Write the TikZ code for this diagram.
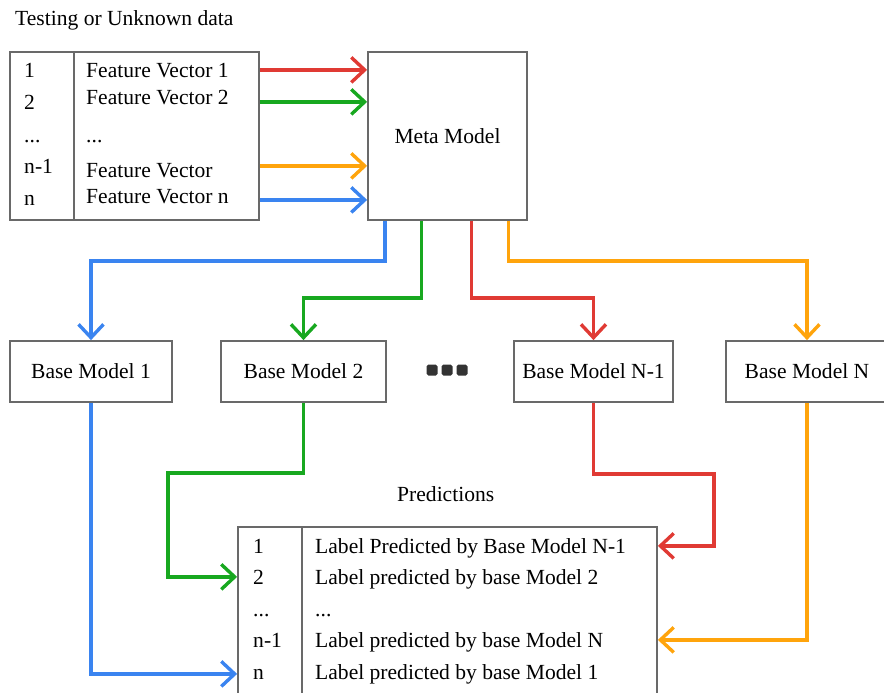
\documentclass[tikz,border=0pt]{standalone}
\usepackage{fontspec}
\setmainfont{Liberation Serif}
\usetikzlibrary{arrows.meta, calc, positioning}
\definecolor{flowred}{RGB}{224,58,52}
\definecolor{flowgreen}{RGB}{24,168,32}
\definecolor{flowblue}{RGB}{58,132,240}
\definecolor{floworange}{RGB}{255,164,12}
\definecolor{boxgray}{RGB}{105,105,105}
\tikzset{
	box/.style={draw=boxgray, line width=1.5pt, inner sep=0pt},
	cell/.style={anchor=base west, inner sep=0pt},
	flow/.style={-{Straight Barb[length=4mm,width=7.5mm]}, line width=2.9pt},
}

\begin{document}
\begin{tikzpicture}[x=0.03cm, y=-0.03cm, font=\fontsize{18.4}{22}\selectfont]
			\useasboundingbox (0,0) rectangle (884,693);
			
			\node(title) [cell] at (15,25) {Testing or Unknown data};
			
			% input table
			\node(inkey) [box, minimum width=1.92cm, minimum height=5.04cm] at (42,136) {};
			\node(invec) [box, minimum width=5.55cm, minimum height=5.04cm] at (166.5,136) {};
			\node(k1)  [cell] at (24,77)  {1};
			\node(k2)  [cell] at (24,109) {2};
			\node(kd)  [cell] at (24,142) {...};
			\node(kn1) [cell] at (24,173) {n-1};
			\node(kn)  [cell] at (24,205) {n};
			\node(fv1)  [cell] at (86,77)  {Feature Vector 1};
			\node(fv2)  [cell] at (86,104) {Feature Vector 2};
			\node(fvd)  [cell] at (86,142) {...};
			\node(fvn1) [cell] at (86,177) {Feature Vector};
			\node(fvn)  [cell] at (86,203) {Feature Vector n};
			
			\node(meta) [box, minimum width=4.77cm, minimum height=5.04cm] at (447.5,136) {Meta Model};
			
			% base models
			\node(base1)  [box, minimum width=4.86cm, minimum height=1.83cm] at (91,371.5)  {Base Model 1};
			\node(base2)  [box, minimum width=4.95cm, minimum height=1.83cm] at (303.5,371.5) {Base Model 2};
			\node(basen1) [box, minimum width=4.77cm, minimum height=1.83cm] at (593.5,371.5) {Base Model N-1};
			\node(basen)  [box, minimum width=4.86cm, minimum height=1.83cm] at (807,371.5) {Base Model N};
			\foreach \x in {432,447,462}
				\fill[black!80, rounded corners=1.5pt] (\x-5.5,364.5) rectangle (\x+5.5,375.5);
			
			% predictions table
			\node(predtitle) [cell] at (397,501) {Predictions};
			\node(predkey) [box, minimum width=1.92cm, minimum height=5.19cm] at (270,613.5) {};
			\node(predlab) [box, minimum width=10.65cm, minimum height=5.19cm] at (479.5,613.5) {};
			\node(p1)  [cell] at (253,553) {1};
			\node(p2)  [cell] at (253,584) {2};
			\node(pd)  [cell] at (253,616) {...};
			\node(pn1) [cell] at (253,647) {n-1};
			\node(pn)  [cell] at (253,679) {n};
			\node(l1)  [cell] at (315,553) {Label Predicted by Base Model N-1};
			\node(l2)  [cell] at (315,584) {Label predicted by base Model 2};
			\node(ld)  [cell] at (315,616) {...};
			\node(ln1) [cell] at (315,647) {Label predicted by base Model N};
			\node(ln)  [cell] at (315,679) {Label predicted by base Model 1};
			
			% inputs into meta model
			\draw[flow, flowred]    (k1 -| invec.east)  -- (k1 -| meta.west);
			\draw[flow, flowgreen]  (k2 -| invec.east)  -- (k2 -| meta.west);
			\draw[flow, floworange] (kn1 -| invec.east) -- (kn1 -| meta.west);
			\draw[flow, flowblue]   (kn -| invec.east)  -- (kn -| meta.west);
			
			% meta model to base models
			\draw[flow, flowblue]   ($(meta.south)+(-62.5,0)$) -- ++(0,40) -| (base1.north);
			\draw[flow, flowgreen]  ($(meta.south)+(-26,0)$) -- ++(0,77) -| (base2.north);
			\draw[flow, flowred]    ($(meta.south)+(24,0)$) -- ++(0,77) -| (basen1.north);
			\draw[flow, floworange] ($(meta.south)+(61,0)$) -- ++(0,40) -| (basen.north);
			
			% base models to predictions
			\draw[flow, flowblue]   (base1.south) |- (pn -| predkey.west);
			\draw[flow, flowgreen]  (base2.south) -- ++(0,70) -- ++(-135.5,0) |- (p2 -| predkey.west);
			\draw[flow, flowred]    (basen1.south) -- ++(0,71) -- ++(120.5,0) |- (p1 -| predlab.east);
			\draw[flow, floworange] (basen.south) |- (pn1 -| predlab.east);
		\end{tikzpicture}
\end{document}
